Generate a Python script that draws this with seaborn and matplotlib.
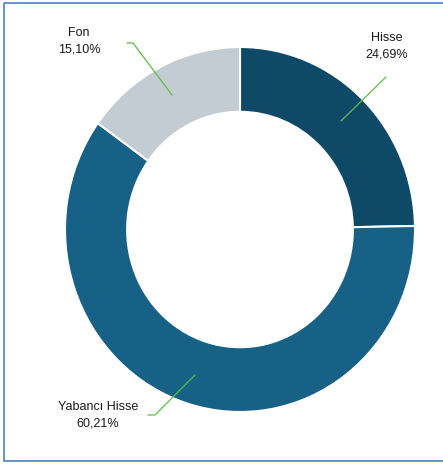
import matplotlib
matplotlib.use('Agg')
import matplotlib.pyplot as plt
import seaborn as sns
import numpy as np

sns.set_theme(style='white')
plt.rcParams['font.family'] = ['Liberation Sans Narrow', 'Liberation Sans', 'DejaVu Sans']

labels = ['Hisse', 'Yabancı Hisse', 'Fon']
values = [24.69, 60.21, 15.10]
colors = ['#0e4a67', '#176187', '#c3cbd3']

fig = plt.figure(figsize=(4.43, 4.65), dpi=100)

# donut, drawn in its own axes
dax = fig.add_axes([65 / 443, 1 - 412 / 465, 350 / 443, 365 / 465])
wedges, _ = dax.pie(values, colors=colors, startangle=90, counterclock=False,
                    radius=1, wedgeprops=dict(width=0.355, edgecolor='white', linewidth=1.5))
dax.set_xlim(-1, 1)
dax.set_ylim(-1, 1)
dax.set_aspect('auto')
dax.axis('off')

# overlay axes in pixel coords for frame, labels and leader lines
ax = fig.add_axes([0, 0, 1, 1], zorder=5)
ax.set_xlim(0, 443)
ax.set_ylim(465, 0)
ax.axis('off')
ax.patch.set_alpha(0)

frame = plt.Rectangle((4, 3.5), 460, 457, fill=False, edgecolor='#4f81bd', linewidth=1.2)
ax.add_patch(frame)

txt = ['{}\n{}%'.format(l, f'{v:.2f}'.replace('.', ',')) for l, v in zip(labels, values)]
green = '#5cbf45'
tkw = dict(ha='center', va='center', fontsize=9, color='#1a1a1a', linespacing=1.55)

ax.text(387, 46, txt[0], **tkw)
ax.plot([386, 341], [77, 121], color=green, lw=0.9)

ax.text(98, 415, txt[1], **tkw)
ax.plot([148, 155, 195], [415, 415, 375], color=green, lw=0.9)

ax.text(79, 41, txt[2], **tkw)
ax.plot([127, 133, 172], [43, 43, 95], color=green, lw=0.9)

fig.savefig('out.png', dpi=100, facecolor='white')
